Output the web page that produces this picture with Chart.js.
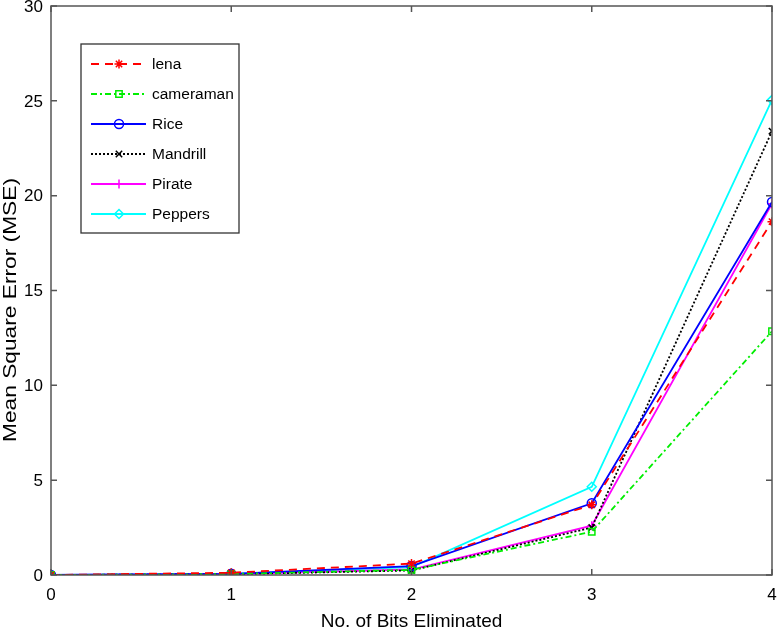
<!DOCTYPE html>
<html>
<head>
<meta charset="utf-8">
<script src="https://cdn.jsdelivr.net/npm/chart.js@4/dist/chart.umd.min.js"></script>
<style>
html,body{margin:0;padding:0;background:#fff;}
#wrap{width:778px;height:628px;position:relative;}
</style>
</head>
<body>
<div id="wrap"><canvas id="c" width="778" height="628"></canvas></div>
<script>
const categories = [0, 1, 2, 3, 4];
const lena      = [0, 0.12, 0.60, 3.70, 18.63];
const cameraman = [0, 0.05, 0.27, 2.28, 12.85];
const rice      = [0, 0.06, 0.47, 3.78, 19.67];
const mandrill  = [0, 0.04, 0.24, 2.50, 23.40];
const pirate    = [0, 0.05, 0.29, 2.60, 19.58];
const peppers   = [0, 0.06, 0.42, 4.65, 25.05];
const xTickLabels = ['0', '1', '2', '3', '4'];
const yTicks = [0, 5, 10, 15, 20, 25, 30];
const xTitle = 'No. of Bits Eliminated';
const yTitle = 'Mean Square Error (MSE)';

const FONT = "'Liberation Sans', Arial, sans-serif";

function mk(label, data, color, dash, pstyle) {
  return {
    label, data: data.map((v,i)=>({x:categories[i], y:v})),
    borderColor: color, backgroundColor: 'rgba(0,0,0,0)',
    borderWidth: 1.8, borderDash: dash, pointStyle: pstyle,
    pointRadius: 4.5, pointBorderWidth: 1.5, pointBorderColor: color,
    pointBackgroundColor: 'rgba(0,0,0,0)', tension: 0, fill: false
  };
}

const datasets = [
  mk('lena', lena, '#ff0000', [8,6], 'star'),
  mk('cameraman', cameraman, '#00ee00', [6,3,2,3], 'rect'),
  mk('Rice', rice, '#0000ff', [], 'circle'),
  mk('Mandrill', mandrill, '#000000', [2,2], 'crossRot'),
  mk('Pirate', pirate, '#ff00ff', [], 'cross'),
  mk('Peppers', peppers, '#00ffff', [], 'rectRot'),
];

const boxPlugin = {
  id: 'box',
  afterDatasetsDraw(chart) {
    const {ctx, chartArea: a, scales} = chart;
    ctx.save();
    ctx.strokeStyle = '#555';
    ctx.lineWidth = 1.5;
    ctx.strokeRect(a.left, a.top, a.right - a.left, a.bottom - a.top);
    const L = 6;
    ctx.beginPath();
    categories.forEach(v => {
      const x = scales.x.getPixelForValue(v);
      ctx.moveTo(x, a.bottom); ctx.lineTo(x, a.bottom - L);
      ctx.moveTo(x, a.top); ctx.lineTo(x, a.top + L);
    });
    yTicks.forEach(v => {
      const y = scales.y.getPixelForValue(v);
      ctx.moveTo(a.left, y); ctx.lineTo(a.left + L, y);
      ctx.moveTo(a.right, y); ctx.lineTo(a.right - L, y);
    });
    ctx.stroke();

    // tick labels
    ctx.fillStyle = '#000';
    ctx.font = '17px ' + FONT;
    ctx.textBaseline = 'middle';
    ctx.textAlign = 'right';
    yTicks.forEach(v => {
      ctx.fillText(String(v), a.left - 8, scales.y.getPixelForValue(v) + 1);
    });
    ctx.textAlign = 'center';
    categories.forEach((v, i) => {
      ctx.fillText(xTickLabels[i], scales.x.getPixelForValue(v), a.bottom + 20);
    });

    // axis titles
    ctx.font = '19px ' + FONT;
    ctx.textBaseline = 'alphabetic';
    ctx.fillText(xTitle, (a.left + a.right) / 2, 627);
    ctx.save();
    ctx.font = '18px ' + FONT;
    ctx.translate(15.5, 310);
    ctx.rotate(-Math.PI / 2);
    const w = ctx.measureText(yTitle).width;
    ctx.scale(264 / w, 1);
    ctx.textAlign = 'center';
    ctx.fillText(yTitle, 0, 0);
    ctx.restore();

    // legend
    const lx = 81, ly = 44, lw = 158, lh = 189;
    ctx.fillStyle = '#fff';
    ctx.fillRect(lx, ly, lw, lh);
    ctx.strokeStyle = '#333';
    ctx.lineWidth = 1.3;
    ctx.strokeRect(lx, ly, lw, lh);
    ctx.font = '15.5px ' + FONT;
    ctx.textBaseline = 'middle';
    ctx.textAlign = 'left';
    chart.data.datasets.forEach((ds, i) => {
      const y = 64 + i * 30;
      ctx.strokeStyle = ds.borderColor;
      ctx.lineWidth = 1.8;
      ctx.setLineDash(ds.borderDash);
      ctx.beginPath(); ctx.moveTo(91, y); ctx.lineTo(146, y); ctx.stroke();
      ctx.setLineDash([]);
      ctx.lineWidth = 1.5;
      ctx.fillStyle = 'rgba(0,0,0,0)';
      Chart.helpers.drawPoint(ctx, {pointStyle: ds.pointStyle, radius: 4.5, borderWidth: 1.5, rotation: 0}, 119, y);
      ctx.fillStyle = '#000';
      ctx.fillText(ds.label, 152, y + 1);
    });
    ctx.restore();
  }
};

new Chart(document.getElementById('c'), {
  type: 'line',
  data: { datasets },
  options: {
    responsive: false, animation: false,
    layout: { padding: { top: 6, right: 5, left: 0, bottom: 0 } },
    plugins: { legend: { display: false }, tooltip: { enabled: false } },
    scales: {
      x: {
        type: 'linear', min: 0, max: 4,
        afterBuildTicks: s => { s.ticks = categories.map(v => ({value: v})); },
        afterFit: s => { s.height = 53; },
        grid: { display: false, drawTicks: false },
        border: { display: false },
        ticks: { display: false },
        title: { display: false, text: xTitle }
      },
      y: {
        min: 0, max: 30,
        afterBuildTicks: s => { s.ticks = yTicks.map(v => ({value: v})); },
        afterFit: s => { s.width = 51; },
        grid: { display: false, drawTicks: false },
        border: { display: false },
        ticks: { display: false },
        title: { display: false, text: yTitle }
      }
    }
  },
  plugins: [boxPlugin]
});
</script>
</body>
</html>
